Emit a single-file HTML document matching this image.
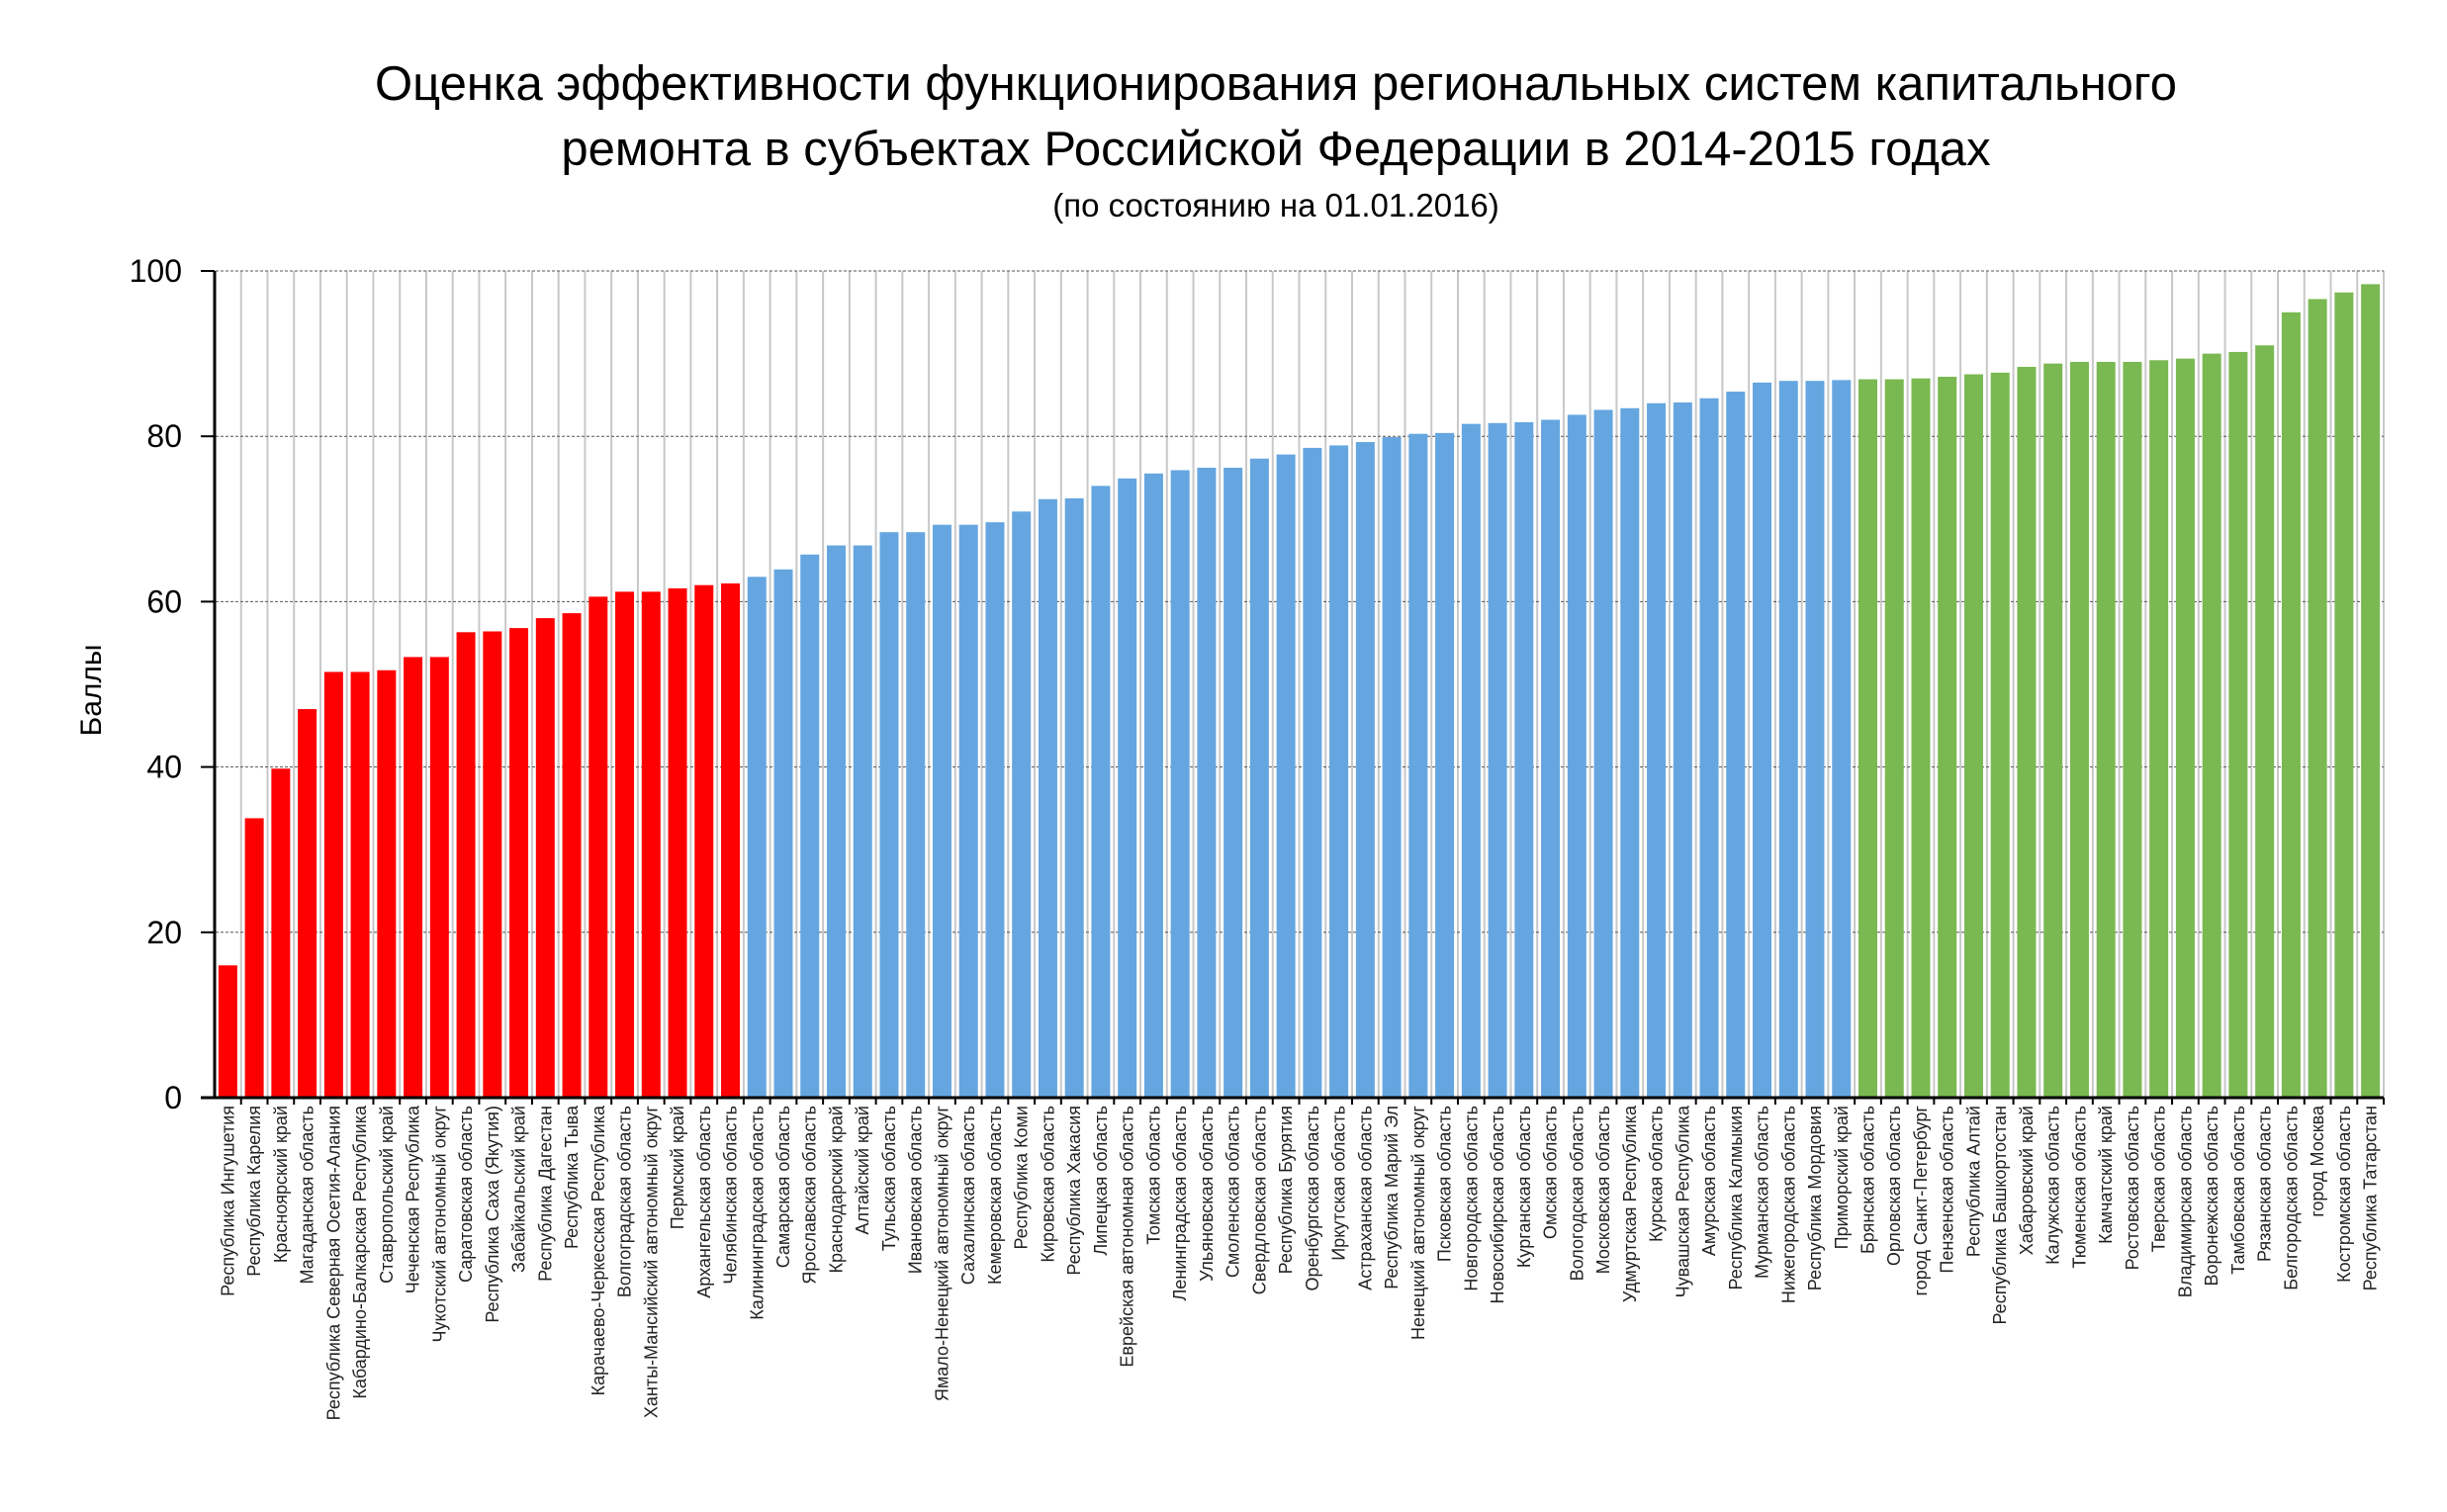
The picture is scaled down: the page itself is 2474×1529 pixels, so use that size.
<!DOCTYPE html>
<html><head><meta charset="utf-8"><style>
html,body{margin:0;padding:0;background:#fff;}
svg{display:block;}
text{font-family:"Liberation Sans","DejaVu Sans",sans-serif;fill:#000;}
.lab{font-family:"Liberation Sans Narrow","Liberation Sans",sans-serif;font-size:18px;fill:#222;}
</style></head><body>
<svg id="s" width="2474" height="1529" xmlns="http://www.w3.org/2000/svg">
<text x="1290" y="101" font-size="49" text-anchor="middle">Оценка эффективности функционирования региональных систем капитального</text>
<text x="1290" y="167" font-size="49" text-anchor="middle">ремонта в субъектах Российской Федерации в 2014-2015 годах</text>
<text x="1290" y="219" font-size="33" text-anchor="middle">(по состоянию на 01.01.2016)</text>
<text x="0" y="0" font-size="30" text-anchor="middle" transform="translate(102,698) rotate(-90)">Баллы</text>
<g id="g"></g>
</svg>
<script>
var d=[["Республика Ингушетия",16],["Республика Карелия",33.8],["Красноярский край",39.8],["Магаданская область",47],["Республика Северная Осетия-Алания",51.5],["Кабардино-Балкарская Республика",51.5],["Ставропольский край",51.7],["Чеченская Республика",53.3],["Чукотский автономный округ",53.3],["Саратовская область",56.3],["Республика Саха (Якутия)",56.4],["Забайкальский край",56.8],["Республика Дагестан",58],["Республика Тыва",58.6],["Карачаево-Черкесская Республика",60.6],["Волгоградская область",61.2],["Ханты-Мансийский автономный округ",61.2],["Пермский край",61.6],["Архангельская область",62],["Челябинская область",62.2],
["Калининградская область",63],["Самарская область",63.9],["Ярославская область",65.7],["Краснодарский край",66.8],["Алтайский край",66.8],["Тульская область",68.4],["Ивановская область",68.4],["Ямало-Ненецкий автономный округ",69.3],["Сахалинская область",69.3],["Кемеровская область",69.6],["Республика Коми",70.9],["Кировская область",72.4],["Республика Хакасия",72.5],["Липецкая область",74],["Еврейская автономная область",74.9],["Томская область",75.5],["Ленинградская область",75.9],["Ульяновская область",76.2],["Смоленская область",76.2],["Свердловская область",77.3],["Республика Бурятия",77.8],["Оренбургская область",78.6],["Иркутская область",78.9],["Астраханская область",79.3],["Республика Марий Эл",79.9],["Ненецкий автономный округ",80.3],["Псковская область",80.4],["Новгородская область",81.5],["Новосибирская область",81.6],["Курганская область",81.7],["Омская область",82],["Вологодская область",82.6],["Московская область",83.2],["Удмуртская Республика",83.4],["Курская область",84],["Чувашская Республика",84.1],["Амурская область",84.6],["Республика Калмыкия",85.4],["Мурманская область",86.5],["Нижегородская область",86.7],["Республика Мордовия",86.7],["Приморский край",86.8],
["Брянская область",86.9],["Орловская область",86.9],["город Санкт-Петербург",87],["Пензенская область",87.2],["Республика Алтай",87.5],["Республика Башкортостан",87.7],["Хабаровский край",88.4],["Калужская область",88.8],["Тюменская область",89],["Камчатский край",89],["Ростовская область",89],["Тверская область",89.2],["Владимирская область",89.4],["Воронежская область",90],["Тамбовская область",90.2],["Рязанская область",91],["Белгородская область",95],["город Москва",96.6],["Костромская область",97.4],["Республика Татарстан",98.4]];
var x0=217,x1=2410,yb=1110,yt=274,n=d.length,st=(x1-x0)/n,k=(yb-yt)/100,h='';
for(var i=1;i<=n;i++){var x=x0+i*st;h+='<line x1="'+x+'" y1="'+yt+'" x2="'+x+'" y2="'+yb+'" stroke="#c8c8c8" stroke-width="2"/>';}
for(var v=20;v<=100;v+=20){var y=yb-v*k;h+='<line x1="'+(x0-14)+'" y1="'+y+'" x2="'+x1+'" y2="'+y+'" stroke="#555" stroke-width="1" stroke-dasharray="3,2"/>';}
for(var v=0;v<=100;v+=20){var y=yb-v*k;h+='<text x="184" y="'+(y+11)+'" font-size="32" text-anchor="end">'+v+'</text>';h+='<line x1="'+(x0-14)+'" y1="'+y+'" x2="'+x0+'" y2="'+y+'" stroke="#000" stroke-width="2"/>';}
for(var i=0;i<n;i++){var c=i<20?'#ff0000':(i<62?'#65a6e0':'#7ab851');var bw=19,cx=x0+(i+0.5)*st,y=yb-d[i][1]*k;
h+='<rect x="'+(cx-bw/2)+'" y="'+y+'" width="'+bw+'" height="'+(yb-y)+'" fill="'+c+'"/>';
h+='<line x1="'+(x0+(i+1)*st)+'" y1="'+yb+'" x2="'+(x0+(i+1)*st)+'" y2="'+(yb+7)+'" stroke="#000" stroke-width="2"/>';
h+='<text class="lab" text-anchor="end" transform="translate('+(cx+6)+',1118) rotate(-90)">'+d[i][0]+'</text>';}
h+='<line x1="'+x0+'" y1="'+yt+'" x2="'+x0+'" y2="'+(yb+1)+'" stroke="#000" stroke-width="3"/>';
h+='<line x1="'+(x0-14)+'" y1="'+yb+'" x2="'+x1+'" y2="'+yb+'" stroke="#000" stroke-width="3"/>';
document.getElementById('g').innerHTML=h;
</script>
</body></html>
